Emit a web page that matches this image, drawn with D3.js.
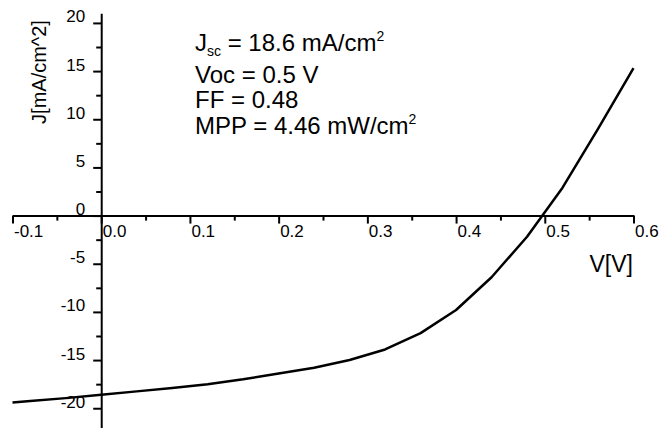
<!DOCTYPE html>
<html>
<head>
<meta charset="utf-8">
<script src="https://cdn.jsdelivr.net/npm/d3@7"></script>
<style>
  body { margin: 0; background: #fff; }
  text { font-family: "Liberation Sans", Arial, sans-serif; fill: #000; }
</style>
</head>
<body>
<script>
// J-V curve, sampled every 0.04 V
var voltage = [-0.1, -0.08, -0.04, 0.0, 0.04, 0.08, 0.12, 0.16, 0.20, 0.24, 0.28, 0.32, 0.36, 0.40, 0.44, 0.48, 0.52, 0.56, 0.60];
var current = [-19.4, -19.25, -18.95, -18.6, -18.25, -17.9, -17.5, -17.0, -16.4, -15.8, -15.0, -13.9, -12.2, -9.8, -6.4, -2.2, 2.9, 9.0, 15.3];

var xTicks = [-0.1, 0.0, 0.1, 0.2, 0.3, 0.4, 0.5, 0.6];
var xMinor = [-0.05, 0.05, 0.15, 0.25, 0.35, 0.45, 0.55];
var yTicks = [-20, -15, -10, -5, 0, 5, 10, 15, 20];
var yMinor = [-17.5, -12.5, -7.5, -2.5, 2.5, 7.5, 12.5, 17.5];

var width = 665, height = 431;

// plain hyphen for negatives, like the original plot
var locale = d3.formatLocale({decimal: ".", thousands: ",", grouping: [3], currency: ["", ""], minus: "-"});

var x = d3.scaleLinear().domain([-0.1, 0.6]).range([12.5, 633.5]);
var y = d3.scaleLinear().domain([-22, 21]).range([427.5, 13.3]);

var svg = d3.select("body").append("svg")
    .attr("width", width)
    .attr("height", height);

// x axis through J = 0
var gx = svg.append("g")
    .attr("transform", "translate(0," + y(0) + ")");
gx.call(d3.axisBottom(x).tickValues(xTicks).tickSize(8).tickSizeOuter(0)
    .tickFormat(locale.format(".1f")));
gx.append("g").call(d3.axisBottom(x).tickValues(xMinor).tickSize(5).tickFormat(""))
    .select(".domain").remove();
gx.selectAll("text")
    .attr("text-anchor", "start")
    .attr("x", 1)
    .attr("y", 21)
    .attr("dy", 0)
    .style("font-size", "17px")
    .style("font-family", "Liberation Sans, Arial, sans-serif");

// y axis through V = 0
var gy = svg.append("g")
    .attr("transform", "translate(" + x(0) + ",0)");
gy.call(d3.axisLeft(y).tickValues(yTicks).tickSize(8).tickSizeOuter(0)
    .tickFormat(locale.format("d")));
gy.append("g").call(d3.axisLeft(y).tickValues(yMinor).tickSize(5).tickFormat(""))
    .select(".domain").remove();
gy.selectAll("text")
    .attr("x", -16)
    .attr("dy", -1)
    .style("font-size", "17px")
    .style("font-family", "Liberation Sans, Arial, sans-serif");

svg.selectAll(".domain").attr("stroke", "#000").attr("stroke-width", 2);
svg.selectAll(".tick line").attr("stroke", "#000").attr("stroke-width", 2);

var line = d3.line()
    .x(function(d, i) { return x(voltage[i]); })
    .y(function(d) { return y(d); });

svg.append("path")
    .datum(current)
    .attr("fill", "none")
    .attr("stroke", "#000")
    .attr("stroke-width", 2.5)
    .attr("stroke-linejoin", "round")
    .attr("d", line);

// axis titles
svg.append("text")
    .attr("transform", "translate(46,72) rotate(-90)")
    .attr("text-anchor", "middle")
    .style("font-size", "20px")
    .text("J[mA/cm^2]");

svg.append("text")
    .attr("x", 633)
    .attr("y", 272)
    .attr("text-anchor", "end")
    .style("font-size", "23px")
    .text("V[V]");

// cell parameters
var info = svg.append("g").style("font-size", "24px");

var t1 = info.append("text").attr("x", 195).attr("y", 51);
t1.append("tspan").text("J");
t1.append("tspan").attr("dy", 5).style("font-size", "14px").text("sc");
t1.append("tspan").attr("dy", -5).text(" = 18.6 mA/cm");
t1.append("tspan").attr("dy", -10).style("font-size", "14px").text("2");

info.append("text").attr("x", 195).attr("y", 83).text("Voc = 0.5 V");
info.append("text").attr("x", 195).attr("y", 108).text("FF = 0.48");

var t4 = info.append("text").attr("x", 195).attr("y", 134);
t4.append("tspan").text("MPP = 4.46 mW/cm");
t4.append("tspan").attr("dy", -10).style("font-size", "14px").text("2");
</script>
</body>
</html>
